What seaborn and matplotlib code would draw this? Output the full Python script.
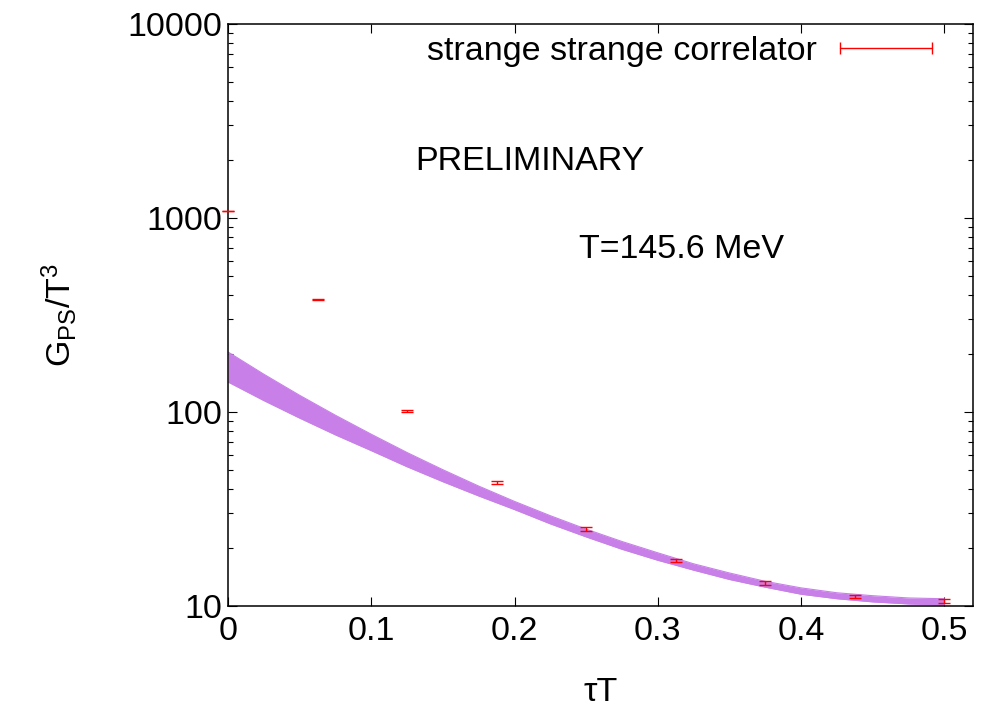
import numpy as np
import matplotlib
matplotlib.use("Agg")
import matplotlib.pyplot as plt
import seaborn as sns
from matplotlib.lines import Line2D
from matplotlib.legend_handler import HandlerLine2D
from matplotlib.ticker import FixedLocator, LogLocator, FuncFormatter, NullFormatter

# correlator data points (tau*T, G/T^3, error)
tau_T = [0.0, 0.0625, 0.125, 0.1875, 0.25, 0.3125, 0.375, 0.4375, 0.5]
G_val = [1090, 382, 101, 43.2, 24.9, 17.2, 13.2, 11.2, 10.6]
G_err = [3, 2, 1.2, 0.7, 0.5, 0.35, 0.3, 0.25, 0.25]

band_x = [0.0, 0.025, 0.05, 0.075, 0.1, 0.125, 0.15, 0.175, 0.2, 0.225, 0.25,
          0.275, 0.3, 0.325, 0.35, 0.375, 0.4, 0.425, 0.45, 0.475, 0.5]
band_hi = [203.9, 156.6, 121.9, 96.2, 76.8, 61.8, 50.4, 41.5, 34.6, 29.2, 24.9,
           21.5, 18.8, 16.5, 14.8, 13.4, 12.4, 11.7, 11.3, 11.0, 10.9]
band_lo = [142.8, 114.5, 93.0, 76.2, 63.2, 52.2, 43.7, 36.9, 31.4, 26.5, 22.7,
           19.6, 17.2, 15.3, 13.7, 12.5, 11.5, 10.9, 10.5, 10.25, 10.12]

sns.set_style("ticks")
plt.rcParams['font.family'] = ['Liberation Sans', 'DejaVu Sans']
plt.rcParams['mathtext.fontset'] = 'custom'
plt.rcParams['mathtext.rm'] = 'Liberation Sans'
plt.rcParams['mathtext.it'] = 'Liberation Sans:italic'
plt.rcParams['text.color'] = 'black'
plt.rcParams['axes.labelcolor'] = 'black'
fs = 24.5

fig = plt.figure(figsize=(9.85, 7.07), dpi=100)
ax = fig.add_axes([228 / 985, 1 - 606 / 707, 745 / 985, 582 / 707])

band_col = '#c880e8'
ax.fill_between(band_x, band_lo, band_hi, color=band_col, lw=0, zorder=2)
sns.lineplot(x=band_x, y=band_hi, color=band_col, lw=0.8, ax=ax, zorder=2)
sns.lineplot(x=band_x, y=band_lo, color=band_col, lw=0.8, ax=ax, zorder=2)

ax.errorbar(tau_T, G_val, yerr=G_err, fmt='none', ecolor='red', elinewidth=1,
            capsize=4, capthick=1, zorder=3, clip_on=False)

ax.set_yscale('log')
ax.set_xlim(0, 0.52)
ax.set_ylim(10, 10000)

ax.xaxis.set_major_locator(FixedLocator([0, 0.1, 0.2, 0.3, 0.4, 0.5]))
ax.xaxis.set_major_formatter(FuncFormatter(lambda v, p: '0' if v == 0 else f'{v:.1f}'))
ax.yaxis.set_major_locator(FixedLocator([10, 100, 1000, 10000]))
ax.yaxis.set_major_formatter(FuncFormatter(lambda v, p: f'{int(round(v))}'))
ax.yaxis.set_minor_locator(LogLocator(base=10, subs=np.arange(2, 10)))
ax.yaxis.set_minor_formatter(NullFormatter())

ax.tick_params(which='both', direction='in', top=True, right=True, colors='black',
               labelsize=fs, width=0.8)
ax.tick_params(which='major', length=6.5)
ax.tick_params(which='minor', length=3.5)
ax.tick_params(axis='x', pad=7)
ax.tick_params(axis='y', pad=4)
for s in ax.spines.values():
    s.set_linewidth(1.1)
    s.set_color('black')

ax.set_xlabel('τT', fontsize=fs, va='top')
ax.xaxis.set_label_coords(0.5, -0.122)
ax.set_ylabel(r'G$_\mathrm{PS}$/T$^\mathrm{3}$', fontsize=fs)
ax.yaxis.set_label_coords(-0.20, 0.5)

ax.text(0.1308, 1945, 'PRELIMINARY', fontsize=fs, ha='left', va='center')
ax.text(0.2448, 690, 'T=145.6 MeV', fontsize=fs, ha='left', va='center')

handle = Line2D([], [], color='red', lw=1, marker='|', markersize=8, markeredgewidth=1)
ax.legend([handle], ['strange strange correlator'], loc='center right',
          bbox_to_anchor=(0.945, 0.9536), frameon=False, fontsize=fs,
          handler_map={handle: HandlerLine2D(numpoints=2, marker_pad=0)},
          markerfirst=False, handlelength=2.7, handletextpad=0.68,
          borderpad=0, borderaxespad=0)

fig.savefig('out.png', dpi=100)
